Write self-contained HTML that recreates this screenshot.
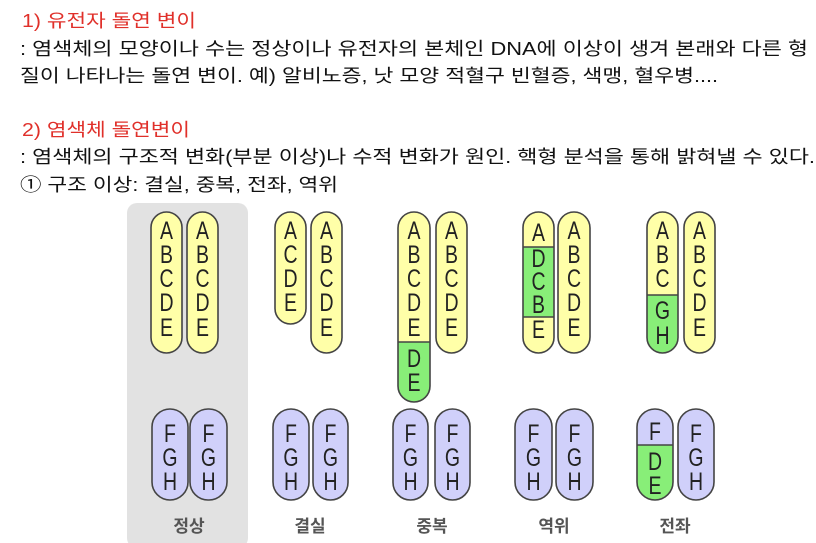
<!DOCTYPE html>
<html><head><meta charset="utf-8"><style>
html,body{margin:0;padding:0;background:#fff;}
svg{display:block;}
.t{font-family:"Liberation Sans","Noto Sans CJK KR",sans-serif;font-size:18px;fill:#111;}
.r{fill:#e0302a;}
.l{font-family:"Liberation Sans",sans-serif;font-size:25px;fill:#222;text-anchor:middle;}
.l text{transform-box:fill-box;transform-origin:center;transform:scaleX(0.78);}
.lb{font-family:"Liberation Sans","Noto Sans CJK KR",sans-serif;font-size:17px;font-weight:bold;fill:#555;text-anchor:middle;}
.y{fill:#ffffa8;stroke:#444;stroke-width:1.6;}
.b{fill:#d0d0fa;stroke:#444;stroke-width:1.6;}
.g{fill:#88ee78;}
</style></head><body>
<svg width="816" height="543" viewBox="0 0 816 543" xmlns="http://www.w3.org/2000/svg">
<text class="t r" x="22" y="27" textLength="174" lengthAdjust="spacingAndGlyphs">1) 유전자 돌연 변이</text>
<text class="t" x="20" y="55" textLength="788" lengthAdjust="spacingAndGlyphs">: 염색체의 모양이나 수는 정상이나 유전자의 본체인 DNA에 이상이 생겨 본래와 다른 형</text>
<text class="t" x="20" y="82" textLength="698" lengthAdjust="spacingAndGlyphs">질이 나타나는 돌연 변이. 예) 알비노증, 낫 모양 적혈구 빈혈증, 색맹, 혈우병....</text>
<text class="t r" x="22" y="136" textLength="168" lengthAdjust="spacingAndGlyphs">2) 염색체 돌연변이</text>
<text class="t" x="20" y="163" textLength="795" lengthAdjust="spacingAndGlyphs">: 염색체의 구조적 변화(부분 이상)나 수적 변화가 원인. 핵형 분석을 통해 밝혀낼 수 있다.</text>
<text class="t" x="20" y="191" textLength="318" lengthAdjust="spacingAndGlyphs">① 구조 이상: 결실, 중복, 전좌, 역위</text>

<rect x="127" y="203" width="121" height="345" rx="10" fill="#e2e2e2"/>

<defs>
<clipPath id="c1"><rect x="398" y="212" width="32" height="190" rx="16"/></clipPath>
<clipPath id="c3"><rect x="647" y="212" width="31" height="141" rx="15.5"/></clipPath>
<clipPath id="c4"><rect x="637" y="409" width="36" height="91" rx="18"/></clipPath>
</defs>

<!-- normal -->
<rect class="y" x="151" y="212" width="31" height="141" rx="15.5"/>
<rect class="y" x="187" y="212" width="31" height="141" rx="15.5"/>
<g class="l"><text x="166.5" y="239">A</text><text x="166.5" y="263">B</text><text x="166.5" y="287">C</text><text x="166.5" y="311">D</text><text x="166.5" y="336">E</text>
<text x="202.5" y="239">A</text><text x="202.5" y="263">B</text><text x="202.5" y="287">C</text><text x="202.5" y="311">D</text><text x="202.5" y="336">E</text></g>
<rect class="b" x="152" y="409" width="36" height="91" rx="18"/>
<rect class="b" x="190" y="409" width="37" height="91" rx="18"/>
<g class="l"><text x="170" y="442">F</text><text x="170" y="466">G</text><text x="170" y="490">H</text>
<text x="208.5" y="442">F</text><text x="208.5" y="466">G</text><text x="208.5" y="490">H</text></g>

<!-- deletion -->
<rect class="y" x="275" y="212" width="31" height="112" rx="15.5"/>
<rect class="y" x="311" y="212" width="31" height="141" rx="15.5"/>
<g class="l"><text x="290.5" y="239">A</text><text x="290.5" y="263">C</text><text x="290.5" y="287">D</text><text x="290.5" y="311">E</text>
<text x="326.5" y="239">A</text><text x="326.5" y="263">B</text><text x="326.5" y="287">C</text><text x="326.5" y="311">D</text><text x="326.5" y="336">E</text></g>
<rect class="b" x="273" y="409" width="36" height="91" rx="18"/>
<rect class="b" x="313" y="409" width="35" height="91" rx="17.5"/>
<g class="l"><text x="291" y="442">F</text><text x="291" y="466">G</text><text x="291" y="490">H</text>
<text x="330.5" y="442">F</text><text x="330.5" y="466">G</text><text x="330.5" y="490">H</text></g>

<!-- duplication -->
<rect x="398" y="212" width="32" height="190" rx="16" fill="#ffffa8"/>
<rect class="g" x="398" y="342" width="32" height="60" clip-path="url(#c1)"/>
<line x1="398" y1="342" x2="430" y2="342" stroke="#444" stroke-width="1.6"/>
<rect x="398" y="212" width="32" height="190" rx="16" fill="none" stroke="#444" stroke-width="1.6"/>
<rect class="y" x="436" y="212" width="31" height="141" rx="15.5"/>
<g class="l"><text x="414" y="239">A</text><text x="414" y="263">B</text><text x="414" y="287">C</text><text x="414" y="311">D</text><text x="414" y="336">E</text><text x="414" y="367">D</text><text x="414" y="391">E</text>
<text x="451.5" y="239">A</text><text x="451.5" y="263">B</text><text x="451.5" y="287">C</text><text x="451.5" y="311">D</text><text x="451.5" y="336">E</text></g>
<rect class="b" x="393" y="409" width="35" height="91" rx="17.5"/>
<rect class="b" x="435" y="409" width="35" height="91" rx="17.5"/>
<g class="l"><text x="410.5" y="442">F</text><text x="410.5" y="466">G</text><text x="410.5" y="490">H</text>
<text x="452.5" y="442">F</text><text x="452.5" y="466">G</text><text x="452.5" y="490">H</text></g>

<!-- inversion -->
<rect x="523" y="212" width="31" height="141" rx="15.5" fill="#ffffa8"/>
<rect class="g" x="523" y="247" width="31" height="70"/>
<line x1="523" y1="247" x2="554" y2="247" stroke="#444" stroke-width="1.6"/>
<line x1="523" y1="317" x2="554" y2="317" stroke="#444" stroke-width="1.6"/>
<rect x="523" y="212" width="31" height="141" rx="15.5" fill="none" stroke="#444" stroke-width="1.6"/>
<rect class="y" x="558" y="212" width="32" height="141" rx="16"/>
<g class="l"><text x="538.5" y="241">A</text><text x="538.5" y="267">D</text><text x="538.5" y="290">C</text><text x="538.5" y="313">B</text><text x="538.5" y="338">E</text>
<text x="574" y="239">A</text><text x="574" y="263">B</text><text x="574" y="287">C</text><text x="574" y="311">D</text><text x="574" y="336">E</text></g>
<rect class="b" x="515" y="409" width="37" height="91" rx="18"/>
<rect class="b" x="556" y="409" width="37" height="91" rx="18"/>
<g class="l"><text x="533.5" y="442">F</text><text x="533.5" y="466">G</text><text x="533.5" y="490">H</text>
<text x="574.5" y="442">F</text><text x="574.5" y="466">G</text><text x="574.5" y="490">H</text></g>

<!-- translocation -->
<rect x="647" y="212" width="31" height="141" rx="15.5" fill="#ffffa8"/>
<rect class="g" x="647" y="295" width="31" height="58" clip-path="url(#c3)"/>
<line x1="647" y1="295" x2="678" y2="295" stroke="#444" stroke-width="1.6"/>
<rect x="647" y="212" width="31" height="141" rx="15.5" fill="none" stroke="#444" stroke-width="1.6"/>
<rect class="y" x="684" y="212" width="31" height="141" rx="15.5"/>
<g class="l"><text x="662.5" y="239">A</text><text x="662.5" y="263">B</text><text x="662.5" y="287">C</text><text x="662.5" y="319">G</text><text x="662.5" y="344">H</text>
<text x="699.5" y="239">A</text><text x="699.5" y="263">B</text><text x="699.5" y="287">C</text><text x="699.5" y="311">D</text><text x="699.5" y="336">E</text></g>
<rect x="637" y="409" width="36" height="91" rx="18" fill="#d0d0fa"/>
<rect class="g" x="637" y="445" width="36" height="55" clip-path="url(#c4)"/>
<line x1="637" y1="445" x2="673" y2="445" stroke="#444" stroke-width="1.6"/>
<rect x="637" y="409" width="36" height="91" rx="18" fill="none" stroke="#444" stroke-width="1.6"/>
<rect class="b" x="678" y="409" width="36" height="91" rx="18"/>
<g class="l"><text x="655" y="440">F</text><text x="655" y="470">D</text><text x="655" y="494">E</text>
<text x="696" y="442">F</text><text x="696" y="466">G</text><text x="696" y="490">H</text></g>

<g class="lb"><text x="189" y="532">정상</text><text x="310" y="532">결실</text><text x="432" y="532">중복</text><text x="554" y="532">역위</text><text x="675" y="532">전좌</text></g>
</svg>
</body></html>
